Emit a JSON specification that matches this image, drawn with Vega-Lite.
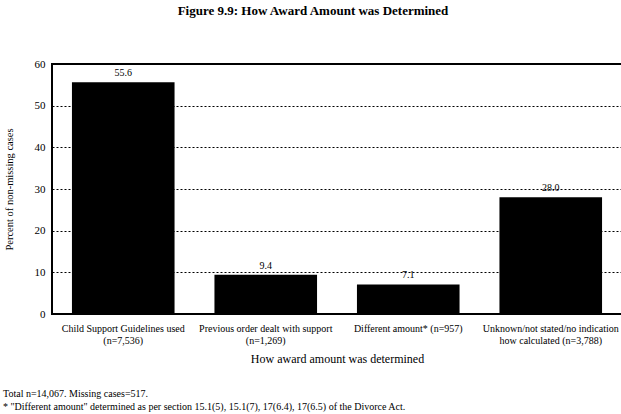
{
  "$schema": "https://vega.github.io/schema/vega-lite/v6.json",
  "background": "white",
  "padding": {"left": 3, "top": 5, "right": 4, "bottom": 4},
  "title": {
    "text": "Figure 9.9:  How Award Amount was Determined",
    "font": "Liberation Serif",
    "fontSize": 13,
    "fontWeight": "bold",
    "color": "black",
    "anchor": "middle",
    "offset": 39
  },
  "spacing": 24,
  "vconcat": [
    {
      "width": 570,
      "height": 250,
      "data": {
        "values": [
          {"method": "Child Support Guidelines used|(n=7,536)", "percent": 55.6},
          {"method": "Previous order dealt with support|(n=1,269)", "percent": 9.4},
          {"method": "Different amount* (n=957)", "percent": 7.1},
          {"method": "Unknown/not stated/no indication|how calculated (n=3,788)", "percent": 28.0}
        ]
      },
      "encoding": {
        "x": {
          "field": "method",
          "type": "nominal",
          "sort": null,
          "scale": {"paddingInner": 0.28, "paddingOuter": 0.14},
          "title": "How award amount was determined",
          "axis": {
            "labelAngle": 0,
            "labelExpr": "split(datum.label, '|')",
            "labelFont": "Liberation Serif",
            "labelFontSize": 10,
            "labelLineHeight": 12,
            "labelPadding": 9,
            "labelLimit": 200,
            "ticks": false,
            "domain": false,
            "titleFont": "Liberation Serif",
            "titleFontSize": 12,
            "titleFontWeight": "normal",
            "titlePadding": 8
          }
        },
        "y": {
          "field": "percent",
          "type": "quantitative",
          "scale": {"domain": [0, 60]},
          "title": "Percent of non-missing cases",
          "axis": {
            "values": [0, 10, 20, 30, 40, 50, 60],
            "ticks": false,
            "domain": false,
            "labelFont": "Liberation Serif",
            "labelFontSize": 11,
            "labelPadding": 7,
            "grid": true,
            "gridColor": "black",
            "gridDash": [2, 2],
            "gridWidth": 1,
            "gridOpacity": 1,
            "titleFont": "Liberation Serif",
            "titleFontSize": 10.5,
            "titleFontWeight": "normal",
            "titlePadding": 20
          }
        }
      },
      "layer": [
        {"mark": {"type": "bar", "color": "black"}},
        {
          "mark": {
            "type": "text",
            "baseline": "bottom",
            "dy": -4,
            "fontSize": 10,
            "font": "Liberation Serif",
            "color": "black"
          },
          "encoding": {"text": {"field": "percent", "type": "quantitative", "format": ".1f"}}
        }
      ]
    },
    {
      "width": 570,
      "height": 1,
      "view": {"stroke": null},
      "data": {"values": []},
      "mark": "point",
      "title": {
        "text": [
          "Total n=14,067.  Missing cases=517.",
          "* \"Different amount\" determined as per section 15.1(5), 15.1(7), 17(6.4), 17(6.5) of the Divorce Act."
        ],
        "font": "Liberation Serif",
        "fontSize": 10,
        "fontWeight": "normal",
        "color": "black",
        "anchor": "start",
        "lineHeight": 13,
        "dx": -49
      }
    }
  ],
  "config": {
    "font": "Liberation Serif",
    "view": {"stroke": "black", "strokeWidth": 2},
    "axis": {
      "labelFont": "Liberation Serif",
      "titleFont": "Liberation Serif",
      "labelColor": "black",
      "titleColor": "black"
    }
  }
}
